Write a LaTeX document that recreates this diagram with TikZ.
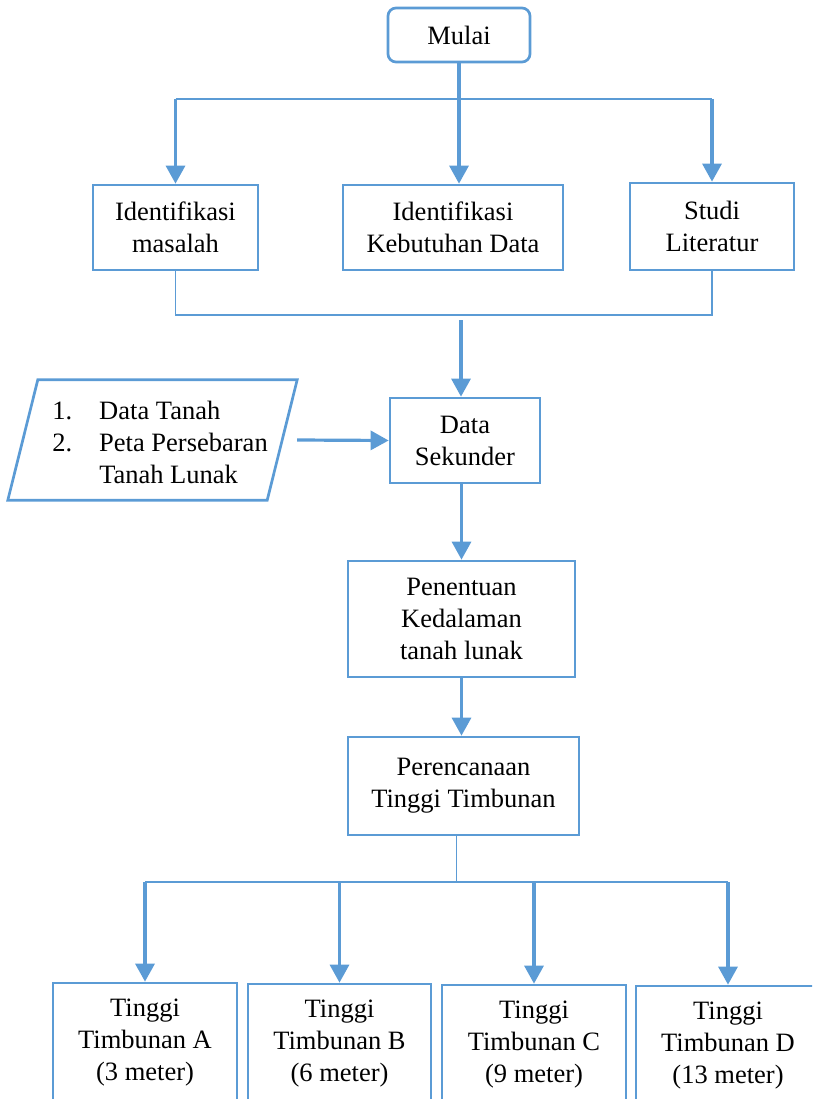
\documentclass[tikz,border=0pt]{standalone}
\usepackage{fontspec}
\setmainfont{Liberation Serif}
\usetikzlibrary{arrows.meta,positioning}
\definecolor{flow}{HTML}{5B9BD5}

\begin{document}
\begin{tikzpicture}[x=1pt,y=-1pt,
  every node/.style={font=\fontsize{26.5}{32}\selectfont},
  box/.style={draw=flow,line width=2.7pt,align=center,inner sep=0pt},
  arr/.style={draw=flow,line width=3.2pt,-{Triangle[length=18pt 0,width=19pt 0]}},
  ln/.style={draw=flow,line width=1.4pt}]

\clip (0,0) rectangle (812,1099);

\node[box,rounded corners=8pt,minimum width=142pt,minimum height=54pt] (mulai) at (459,35) {Mulai};

\node[box,minimum width=165pt,minimum height=85pt] (idm) at (175.5,227.5) {Identifikasi\\masalah};
\node[box,minimum width=220pt,minimum height=85pt] (idk) at (453,227.5) {Identifikasi\\Kebutuhan Data};
\node[box,minimum width=164pt,minimum height=87pt] (studi) at (712,226.5) {Studi\\Literatur};

\node[minimum width=289pt,minimum height=120pt] (para) at (152.5,440) {};
\draw[draw=flow,line width=2.7pt] ([xshift=30pt]para.north west) -- (para.north east)
  -- ([xshift=-30pt]para.south east) -- (para.south west) -- cycle;
\node[align=left] (dat) at (160,442) {\makebox[47pt][l]{1.}Data Tanah\\
  \makebox[47pt][l]{2.}Peta Persebaran\\\hspace*{47pt}Tanah Lunak};

\node[box,minimum width=150pt,minimum height=85pt] (sek) at (465,440.5) {Data\\Sekunder};
\node[box,minimum width=227pt,minimum height=116pt] (pen) at (461.5,619) {Penentuan\\Kedalaman\\tanah lunak};
\node[box,minimum width=231pt,minimum height=98pt] (per) at (463.5,786) {Perencanaan\\Tinggi Timbunan};

\node[box,minimum width=184pt,minimum height=120pt] (ta) at (145,1043) {Tinggi\\Timbunan A\\(3 meter)};
\node[box,minimum width=183pt,minimum height=120pt] (tb) at (339.5,1044) {Tinggi\\Timbunan B\\(6 meter)};
\node[box,minimum width=184pt,minimum height=120pt] (tc) at (534,1045) {Tinggi\\Timbunan C\\(9 meter)};
\node[box,minimum width=184pt,minimum height=120pt] (td) at (728,1046) {Tinggi\\Timbunan D\\(13 meter)};

\coordinate (split) at (0,99);
\coordinate (merge) at (0,315);
\coordinate (join) at (461,320);
\coordinate (fork) at (0,882);

\draw[arr] (mulai.south) -- (mulai.south |- idk.north);
\draw[ln] (idm.north |- split) -- (studi.north |- split);
\draw[arr] (idm.north |- split) -- (idm.north);
\draw[arr] (studi.north |- split) -- (studi.north);

\draw[ln] (idm.south) -- (idm.south |- merge) -- (studi.south |- merge) -- (studi.south);
\draw[arr] (join) -- (join |- sek.north);

\draw[arr] (para.east) -- (sek.west);
\draw[arr] (pen.north |- sek.south) -- (pen.north);
\draw[arr] (pen.south) -- (pen.south |- per.north);

\draw[ln] (per.south) ++(-7,0) coordinate (pd) -- (pd |- fork);
\draw[ln] (ta.north |- fork) -- (td.north |- fork);
\foreach \t in {ta,tb,tc,td}
  \draw[arr] (\t.north |- fork) -- (\t.north);
\end{tikzpicture}
\end{document}
